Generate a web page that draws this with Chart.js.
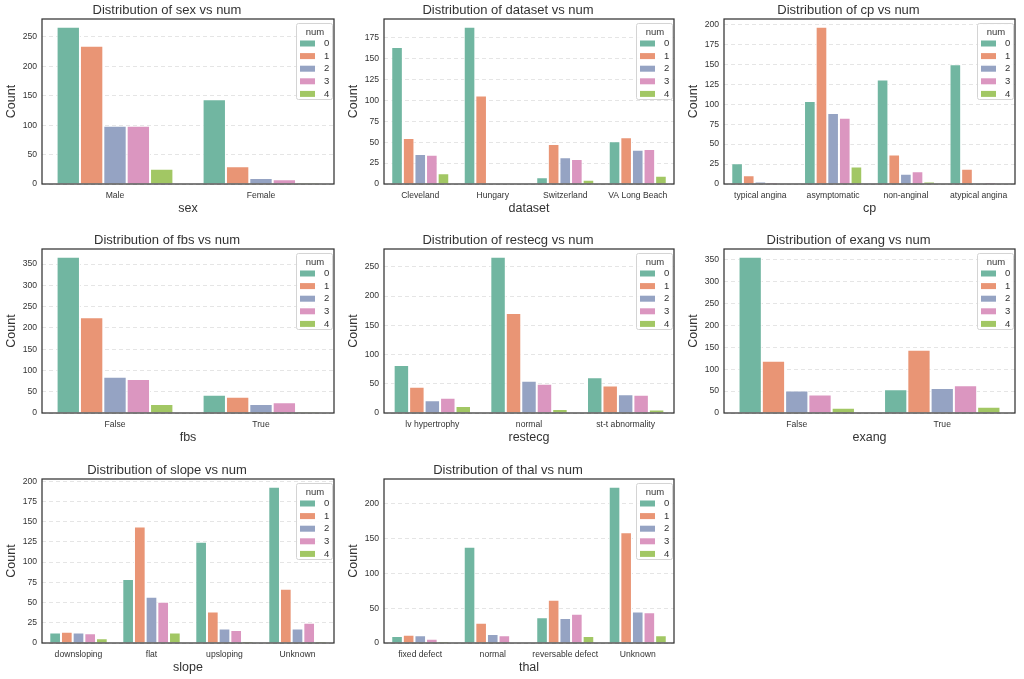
<!DOCTYPE html>
<html>
<head>
<meta charset="utf-8">
<script src="https://cdn.jsdelivr.net/npm/chart.js@4.4.0/dist/chart.umd.min.js"></script>
<style>
  html, body { margin: 0; padding: 0; background: #fff; }
  body { width: 1024px; height: 679px; position: relative; overflow: hidden; }
  .cell { position: absolute; }
</style>
</head>
<body>
<script>
// hue levels (num) and their colours (seaborn Set2, desaturated)
const numLevels = ['0', '1', '2', '3', '4'];
const numColors = ['#71b6a1', '#e99575', '#95a3c3', '#db96c0', '#a2c764'];

// each counts array: one row per num level, one value per category
const sexCategories = ['Male', 'Female'];
const sexCounts = [[267, 144], [235, 30], [99, 10], [99, 8], [26, 2]];

const datasetCategories = ['Cleveland', 'Hungary', 'Switzerland', 'VA Long Beach'];
const datasetCounts = [[164, 188, 8, 51], [55, 106, 48, 56], [36, 0, 32, 41], [35, 0, 30, 42], [13, 0, 5, 10]];

const cpCategories = ['typical angina', 'asymptomatic', 'non-anginal', 'atypical angina'];
const cpCounts = [[26, 104, 131, 150], [11, 197, 37, 19], [3, 89, 13, 0], [2, 83, 16, 2], [0, 22, 3, 0]];

const fbsCategories = ['False', 'True'];
const fbsCounts = [[367, 43], [225, 38], [85, 21], [80, 25], [21, 3]];

const restecgCategories = ['lv hypertrophy', 'normal', 'st-t abnormality'];
const restecgCounts = [[82, 267, 61], [45, 171, 47], [22, 55, 32], [26, 50, 31], [12, 7, 6]];

const exangCategories = ['False', 'True'];
const exangCounts = [[356, 54], [119, 144], [51, 57], [42, 63], [12, 14]];

const slopeCategories = ['downsloping', 'flat', 'upsloping', 'Unknown'];
const slopeCounts = [[13, 79, 125, 193], [14, 144, 39, 67], [13, 57, 18, 18], [12, 51, 16, 25], [6, 13, 2, 2]];

const thalCategories = ['fixed defect', 'normal', 'reversable defect', 'Unknown'];
const thalCounts = [[10, 138, 37, 224], [12, 29, 62, 159], [11, 13, 36, 45], [6, 11, 42, 44], [2, 0, 10, 11]];

const FONT = '"Liberation Sans", Arial, sans-serif';
const TEXT = '#333';

// legend drawn inside the plot, top right
const innerLegend = {
  id: 'innerLegend',
  afterDraw(chart) {
    const { ctx, chartArea } = chart;
    const w = 36, h = 76;
    const x = chartArea.right - w - 2, y = chartArea.top + 4;
    ctx.save();
    ctx.fillStyle = 'rgba(255,255,255,0.85)';
    ctx.strokeStyle = '#d4d4d4';
    ctx.lineWidth = 1;
    ctx.beginPath();
    ctx.roundRect(x + 0.5, y + 0.5, w, h, 2);
    ctx.fill();
    ctx.stroke();
    ctx.font = '9.5px ' + FONT;
    ctx.fillStyle = TEXT;
    ctx.textAlign = 'center';
    ctx.textBaseline = 'middle';
    ctx.fillText('num', x + w / 2 + 1, y + 9);
    chart.data.datasets.forEach((ds, k) => {
      const cy = y + 20.5 + k * 12.6;
      ctx.fillStyle = ds.backgroundColor;
      ctx.fillRect(x + 4, cy - 3, 15, 6);
      ctx.fillStyle = TEXT;
      ctx.textAlign = 'left';
      ctx.fillText(ds.label, x + 28, cy);
    });
    ctx.restore();
  }
};

// dark frame round the plot area
const frame = {
  id: 'frame',
  afterDatasetsDraw(chart) {
    const { ctx, chartArea: a } = chart;
    ctx.save();
    ctx.strokeStyle = '#333';
    ctx.lineWidth = 1.25;
    ctx.strokeRect(a.left, a.top, a.right - a.left, a.bottom - a.top);
    ctx.restore();
  }
};

const colLeft = [42, 384, 724], colRight = [334, 674, 1015];
const rowTop = [19, 249, 479], rowBottom = [184, 413, 643];
const TOP_SPACE = 19, LEFT_SPACE = 42, BOTTOM_SPACE = 32, RIGHT_SPACE = 3;

function drawCountPlot(index, feature, categories, counts, step) {
  const col = index % 3, row = Math.floor(index / 3);
  const plotW = colRight[col] - colLeft[col];
  const plotH = rowBottom[row] - rowTop[row];
  const width = plotW + LEFT_SPACE + RIGHT_SPACE;
  const height = plotH + TOP_SPACE + BOTTOM_SPACE;

  const cell = document.createElement('div');
  cell.className = 'cell';
  cell.style.left = (colLeft[col] - LEFT_SPACE) + 'px';
  cell.style.top = (rowTop[row] - TOP_SPACE) + 'px';
  cell.style.width = width + 'px';
  cell.style.height = height + 'px';
  const canvas = document.createElement('canvas');
  canvas.width = width;
  canvas.height = height;
  canvas.style.width = width + 'px';
  canvas.style.height = height + 'px';
  cell.appendChild(canvas);
  document.body.appendChild(cell);

  const maxVal = Math.max(...counts.flat());

  return new Chart(canvas, {
    type: 'bar',
    data: {
      labels: categories,
      datasets: numLevels.map((lvl, k) => ({
        label: lvl,
        data: counts[k],
        backgroundColor: numColors[k],
        borderColor: '#ffffff',
        borderWidth: 1,
        borderSkipped: 'start',
        categoryPercentage: 0.8,
        barPercentage: 1.0
      }))
    },
    options: {
      responsive: false,
      animation: false,
      layout: { padding: { left: 0, right: RIGHT_SPACE, top: 0, bottom: 0 } },
      plugins: {
        legend: { display: false },
        tooltip: { enabled: false },
        title: {
          display: true,
          text: 'Distribution of ' + feature + ' vs num',
          color: TEXT,
          font: { family: FONT, size: 13, weight: 'normal' },
          padding: { top: 3, bottom: 0.4 }
        }
      },
      scales: {
        x: {
          grid: { display: false, drawTicks: false },
          border: { display: false },
          ticks: { color: TEXT, font: { family: FONT, size: 8.6 }, padding: 6, maxRotation: 0, autoSkip: false },
          title: { display: true, text: feature, color: TEXT, font: { family: FONT, size: 12.5 }, padding: { top: 0, bottom: 0 } },
          afterFit(scale) { scale.height = BOTTOM_SPACE; }
        },
        y: {
          min: 0,
          max: maxVal * 1.05,
          grid: { color: 'rgba(0,0,0,0.13)', lineWidth: 0.8, drawTicks: false },
          border: { display: false, dash: [4, 3] },
          ticks: { stepSize: step, includeBounds: false, color: TEXT, font: { family: FONT, size: 8.6 }, padding: 5 },
          title: { display: true, text: 'Count', color: TEXT, font: { family: FONT, size: 12.5 }, padding: { top: 4.5, bottom: 0 } },
          afterFit(scale) { scale.width = LEFT_SPACE; }
        }
      }
    },
    plugins: [frame, innerLegend]
  });
}

drawCountPlot(0, 'sex', sexCategories, sexCounts, 50);
drawCountPlot(1, 'dataset', datasetCategories, datasetCounts, 25);
drawCountPlot(2, 'cp', cpCategories, cpCounts, 25);
drawCountPlot(3, 'fbs', fbsCategories, fbsCounts, 50);
drawCountPlot(4, 'restecg', restecgCategories, restecgCounts, 50);
drawCountPlot(5, 'exang', exangCategories, exangCounts, 50);
drawCountPlot(6, 'slope', slopeCategories, slopeCounts, 25);
drawCountPlot(7, 'thal', thalCategories, thalCounts, 50);
</script>
</body>
</html>
